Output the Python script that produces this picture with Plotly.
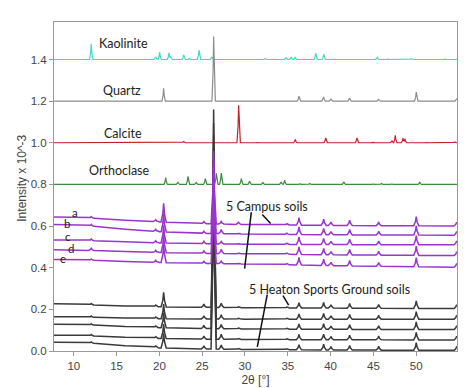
import numpy as np
import plotly.graph_objects as go

# ---------------- data ----------------
# baseline knots (2theta) shared by the soil patterns
knot_x = [7.69, 12, 16, 20, 25, 30, 40, 54.77]

# reference patterns: baseline level, peak positions (2theta) and heights
kaol_base = 1.40
kaol_pos = [12.04, 19.57, 20.03, 21.12, 21.32, 22.84, 23.54, 24.63, 26.15,
            32.37, 34.82, 35.41, 35.88, 38.26, 39.19, 45.46, 46.71, 49.43, 53.33]
kaol_h = [0.075, 0.012, 0.035, 0.032, 0.012, 0.022, 0.006, 0.045, 0.012,
          0.005, 0.008, 0.010, 0.012, 0.030, 0.025, 0.010, 0.004, 0.004, 0.004]

qtz_base = 1.20
qtz_pos = [20.50, 26.34, 36.31, 39.19, 40.05, 42.23, 45.62, 50.01, 54.73]
qtz_h = [0.062, 0.310, 0.024, 0.020, 0.010, 0.015, 0.008, 0.043, 0.010]

calc_base = 1.00
calc_pos = [22.84, 29.26, 31.40, 35.88, 39.43, 43.08, 44.92, 47.17, 47.56, 48.46, 48.69, 51.18, 54.50]
calc_h = [0.006, 0.180, 0.003, 0.016, 0.023, 0.023, 0.004, 0.010, 0.036, 0.022, 0.018, 0.003, 0.004]

orth_base = 0.80
orth_pos = [13.21, 14.78, 20.74, 22.17, 23.34, 24.31, 25.36, 26.65, 27.23, 29.57,
            30.55, 32.10, 34.24, 34.63, 36.39, 37.56, 41.57, 44.95, 45.93, 47.10, 50.41]
orth_h = [0.003, 0.003, 0.033, 0.010, 0.039, 0.009, 0.028, 0.053, 0.055, 0.028,
          0.016, 0.009, 0.012, 0.020, 0.005, 0.004, 0.012, 0.004, 0.004, 0.004, 0.012]

# soil patterns
soil_pos = [12.04, 19.57, 20.50, 25.20, 26.34, 27.23, 29.26, 34.9, 36.31, 39.19, 40.05, 42.23, 45.62, 50.01, 54.73]

campus_names = ["a", "b", "c", "d", "e"]
campus_base = [
    [0.643, 0.638, 0.628, 0.620, 0.612, 0.607, 0.603, 0.600],
    [0.607, 0.600, 0.585, 0.573, 0.565, 0.562, 0.558, 0.556],
    [0.533, 0.530, 0.525, 0.519, 0.515, 0.513, 0.511, 0.510],
    [0.486, 0.483, 0.478, 0.473, 0.469, 0.467, 0.462, 0.458],
    [0.439, 0.436, 0.430, 0.425, 0.421, 0.418, 0.410, 0.402],
]
campus_h = [
    [0.008, 0.010, 0.090, 0.010, 0.350, 0.012, 0.010, 0.006, 0.036, 0.030, 0.016, 0.026, 0.018, 0.044, 0.018],
    [0.008, 0.010, 0.085, 0.010, 0.340, 0.020, 0.004, 0.006, 0.036, 0.030, 0.016, 0.026, 0.018, 0.044, 0.018],
    [0.008, 0.010, 0.085, 0.012, 0.350, 0.012, 0.004, 0.006, 0.036, 0.030, 0.016, 0.026, 0.018, 0.044, 0.018],
    [0.010, 0.010, 0.085, 0.012, 0.350, 0.020, 0.004, 0.006, 0.036, 0.030, 0.016, 0.026, 0.018, 0.044, 0.018],
    [0.006, 0.010, 0.085, 0.010, 0.350, 0.012, 0.004, 0.006, 0.036, 0.030, 0.016, 0.026, 0.018, 0.044, 0.018],
]

heaton_base = [
    [0.227, 0.222, 0.216, 0.212, 0.210, 0.208, 0.206, 0.204],
    [0.165, 0.162, 0.158, 0.155, 0.154, 0.153, 0.153, 0.153],
    [0.129, 0.125, 0.118, 0.112, 0.108, 0.106, 0.104, 0.103],
    [0.076, 0.073, 0.066, 0.060, 0.057, 0.055, 0.054, 0.053],
    [0.042, 0.038, 0.025, 0.015, 0.010, 0.007, 0.005, 0.003],
]
heaton_h = [
    [0.006, 0.008, 0.070, 0.015, 0.950, 0.020, 0.004, 0.004, 0.025, 0.027, 0.016, 0.022, 0.018, 0.036, 0.018],
    [0.006, 0.008, 0.070, 0.015, 0.940, 0.020, 0.004, 0.004, 0.025, 0.027, 0.016, 0.022, 0.018, 0.036, 0.018],
    [0.006, 0.008, 0.070, 0.015, 0.930, 0.020, 0.004, 0.004, 0.025, 0.027, 0.016, 0.022, 0.018, 0.036, 0.018],
    [0.006, 0.008, 0.070, 0.015, 0.920, 0.025, 0.004, 0.004, 0.025, 0.027, 0.016, 0.022, 0.018, 0.036, 0.018],
    [0.006, 0.008, 0.070, 0.015, 0.910, 0.020, 0.004, 0.004, 0.025, 0.027, 0.016, 0.022, 0.018, 0.036, 0.018],
]

x_ticks = [10, 15, 20, 25, 30, 35, 40, 45, 50]
y_ticks = [0.0, 0.2, 0.4, 0.6, 0.8, 1.0, 1.2, 1.4]


# ---------------- helpers ----------------
def pattern(bx, by, pos, h, hw):
    """Polyline: baseline through knots plus triangular peaks."""
    xs = set(bx)
    for p in pos:
        xs.update([p - hw, p - hw / 3, p, p + hw / 3, p + hw])
    xs = np.array(sorted(x for x in xs if bx[0] <= x <= bx[-1]))
    ys = np.interp(xs, bx, by)
    for p, hh in zip(pos, h):
        ys = ys + hh * np.clip(1 - np.abs(xs - p) / hw, 0, None) ** 2
    return xs, ys


fig = go.Figure()

refs = [
    ("Kaolinite", kaol_base, kaol_pos, kaol_h, "#40D8C8"),
    ("Quartz", qtz_base, qtz_pos, qtz_h, "#8C8C8C"),
    ("Calcite", calc_base, calc_pos, calc_h, "#C0202A"),
    ("Orthoclase", orth_base, orth_pos, orth_h, "#3C8A3C"),
]
for name, b, pos, h, col in refs:
    bx = [knot_x[0], knot_x[-1]]
    xs, ys = pattern(bx, [b, b], pos, h, 0.2)
    fig.add_trace(go.Scatter(x=xs, y=ys, mode="lines", name=name,
                             line=dict(color=col, width=1.2), showlegend=False))

for base, h in zip(heaton_base, heaton_h):
    xs, ys = pattern(knot_x, base, soil_pos, h, 0.3)
    fig.add_trace(go.Scatter(x=xs, y=ys, mode="lines",
                             line=dict(color="#3A3A3A", width=1.5), showlegend=False))

for base, h in zip(campus_base, campus_h):
    xs, ys = pattern(knot_x, base, soil_pos, h, 0.3)
    fig.add_trace(go.Scatter(x=xs, y=ys, mode="lines",
                             line=dict(color="#9A35CC", width=1.5), showlegend=False))

# ---------------- text labels ----------------
lab_font = dict(family="Lato, Open Sans, sans-serif", size=12.5, color="#222")
ref_labels = [("Kaolinite", 15.84, 1.478), ("Quartz", 15.65, 1.252),
              ("Calcite", 15.75, 1.045), ("Orthoclase", 15.3, 0.869)]
for t, x, y in ref_labels:
    fig.add_annotation(x=x, y=y, text=t, showarrow=False, font=lab_font)

letter_font = dict(family="Lato, Open Sans, sans-serif", size=11.5, color="#222")
letter_pos = [(10.18, 0.666), (9.24, 0.611), (9.32, 0.552), (9.71, 0.494), (8.74, 0.446)]
for t, (x, y) in zip(campus_names, letter_pos):
    fig.add_annotation(x=x, y=y, text=t, showarrow=False, font=letter_font, borderpad=0)

fig.add_annotation(x=32.6, y=0.692, text="5 Campus soils", showarrow=False, font=lab_font)
fig.add_annotation(x=39.88, y=0.294, text="5 Heaton Sports Ground soils", showarrow=False, font=lab_font)

leader_lines = [((30.74, 0.667), (29.96, 0.396)), ((32.02, 0.656), (33.0, 0.612)),
                ((32.6, 0.271), (31.44, 0.020)), ((34.44, 0.266), (35.1, 0.22))]
for (x0, y0), (x1, y1) in leader_lines:
    fig.add_shape(type="line", x0=x0, y0=y0, x1=x1, y1=y1, xref="x", yref="y",
                  line=dict(color="#111", width=1.5))

fig.add_annotation(x=(14 - 46) / (474 - 46 - 25), y=(352 - 175) / (352 - 14),
                   xref="paper", yref="paper", xanchor="center", yanchor="middle",
                   text="Intensity x 10^-3", textangle=-90, showarrow=False,
                   font=dict(family="Liberation Sans, Arial", size=12, color="#444"))

tick_font = dict(family="Liberation Sans, Arial", size=11.5, color="#444")
fig.update_xaxes(range=[7.69, 54.77], tickvals=x_ticks, showgrid=False, zeroline=False,
                 showline=True, mirror=True, linecolor="#999", linewidth=1,
                 ticks="outside", ticklen=4, tickcolor="#999", tickfont=tick_font,
                 title=dict(text="2θ [°]", font=dict(family="Liberation Sans, Arial", size=12, color="#444"),
                            standoff=4))
fig.update_yaxes(range=[0, 1.58], tickvals=y_ticks, tickformat=".1f", showgrid=False, zeroline=False,
                 showline=True, mirror=True, linecolor="#999", linewidth=1,
                 ticks="outside", ticklen=4, tickcolor="#999", tickfont=tick_font)

fig.update_layout(width=474, height=388, margin=dict(l=46, r=25, t=14, b=36),
                  plot_bgcolor="white", paper_bgcolor="white")

fig.write_html("out.html")
